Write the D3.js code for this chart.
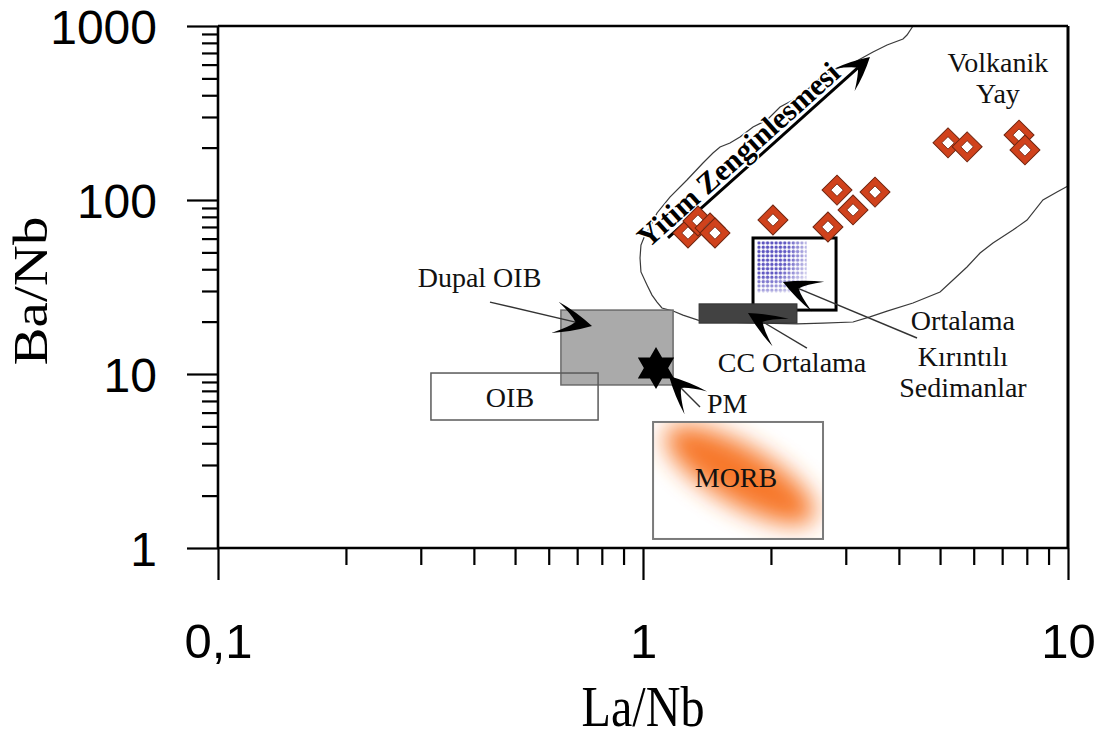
<!DOCTYPE html>
<html><head><meta charset="utf-8">
<script src="https://cdn.jsdelivr.net/npm/d3@7"></script>
<style>body{margin:0;background:#fff} svg{display:block}</style>
</head><body>
<svg id="chart" width="1102" height="740"></svg>
<script>
// ---------- data ----------
const xTicks = [0.1, 1, 10];
const xTickLabels = ["0,1", "1", "10"];
const yTicks = [1, 10, 100, 1000];
const yTickLabels = ["1", "10", "100", "1000"];
const xTitle = "La/Nb";
const yTitle = "Ba/Nb";

// samples (red diamonds)
const sampleLaNb = [1.276, 1.347, 1.438, 1.477, 2.022, 2.724, 2.861, 3.12, 3.515, 5.22, 5.79, 7.67, 7.92];
const sampleBaNb = [64.6, 75.7, 69.0, 64.6, 76.8, 70.0, 114, 87.7, 111, 213, 202, 236, 194];

// reference fields (rectangles)
const boxNames = ["MORB", "Dupal OIB", "OIB", "Sediment", "CC"];
const boxLaNb = [[1.056, 2.652], [0.641, 1.177], [0.317, 0.784], [1.815, 2.846], [1.355, 2.303]];
const boxBaNb = [[1.127, 5.30], [8.65, 23.3], [5.44, 10.13], [23.3, 60.5], [19.6, 25.3]];

// sediment dot cloud extent
const dotLaNb = [1.855, 2.43];
const dotBaNb = [29.2, 58.1];

// MORB blob axis end points
const morbLaNb = [1.115, 2.567];
const morbBaNb = [4.77, 1.448];

// primitive mantle
const pmLaNb = 1.073, pmBaNb = 10.83;

// volcanic arc field boundary
const arcLaNb = [4.318, 4.18, 4.09, 3.752, 3.477, 3.12, 2.80, 2.61, 2.431, 2.254, 2.101, 1.958, 1.815, 1.691, 1.602, 1.518, 1.461, 1.384, 1.269, 1.157, 1.079, 1.039, 1.011, 0.989, 0.984, 0.989, 1.022, 1.050, 1.079, 1.108, 1.177, 1.242, 1.347, 1.518, 1.885, 2.303, 2.652, 3.12, 3.42, 3.752, 4.318, 5.0, 5.363, 5.786, 6.21, 6.66, 7.42, 8.01, 8.73, 9.42, 10];
const arcBaNb = [1000, 887.8, 842, 778, 709, 613, 558.6, 502.5, 428.7, 375.6, 342.3, 288.3, 262.8, 230.2, 212.6, 201.6, 186.3, 163.2, 130.3, 104.0, 84.2, 69.9, 62.9, 55.1, 46.4, 38.6, 32.5, 28.4, 25.9, 23.95, 23.0, 21.8, 20.4, 19.9, 19.6, 19.4, 19.6, 19.9, 21.3, 23.0, 25.6, 29.6, 34.7, 41.2, 49.6, 56.6, 67.2, 76.7, 100, 111.2, 120.3];

// subduction enrichment arrow
const subFrom = [1.145, 60.5], subTo = [3.42, 663];
const subText = "Yitim Zenginlesmesi";

// labels
const labelTexts = ["Dupal OIB", "OIB", "PM", "MORB", "CC Ortalama", "Ortalama", "Kırıntılı", "Sedimanlar", "Volkanik", "Yay"];
const labelLaNb = [0.4124, 0.4864, 1.414, 1.655, 2.242, 5.66, 5.66, 5.66, 6.84, 6.84];
const labelBaNb = [31.6, 6.46, 5.97, 2.24, 10.27, 17.9, 11.12, 7.38, 544, 361];
const labelAnchor = ["middle", "middle", "start", "middle", "middle", "middle", "middle", "middle", "middle", "middle"];

// pointer arrows
const arrowFromLaNb = [0.4365, 1.362, 2.431, 4.413];
const arrowFromBaNb = [25.9, 6.46, 14.1, 16.1];
const arrowToLaNb = [0.7586, 1.151, 1.766, 2.135];
const arrowToBaNb = [18.88, 9.74, 22.4, 33.8];

// ---------- drawing ----------
const svg = d3.select("#chart");
const x = d3.scaleLog().domain([0.1, 10]).range([218, 1068]);
const y = d3.scaleLog().domain([1, 1000]).range([548, 26]);
const SERIF = "'Liberation Serif','Times New Roman',serif";
const SANS = "'Liberation Sans',Arial,sans-serif";

const defs = svg.append("defs");
defs.append("filter").attr("id", "blur").attr("x", "-50%").attr("y", "-50%").attr("width", "200%").attr("height", "200%")
  .append("feGaussianBlur").attr("stdDeviation", 12);
const pat = defs.append("pattern").attr("id", "dots").attr("patternUnits", "userSpaceOnUse")
  .attr("width", 4.3).attr("height", 4.3);
pat.append("circle").attr("cx", 2.15).attr("cy", 2.15).attr("r", 1.7).attr("fill", "#5a52c0");
const rg = defs.append("radialGradient").attr("id", "dotfade").attr("cx", "0.18").attr("cy", "0.22").attr("r", "1.0");
rg.append("stop").attr("offset", "0").attr("stop-color", "#fff").attr("stop-opacity", 1);
rg.append("stop").attr("offset", "0.45").attr("stop-color", "#fff").attr("stop-opacity", 0.95);
rg.append("stop").attr("offset", "0.75").attr("stop-color", "#fff").attr("stop-opacity", 0.5);
rg.append("stop").attr("offset", "1").attr("stop-color", "#fff").attr("stop-opacity", 0.12);
const mask = defs.append("mask").attr("id", "dotmask");
mask.append("rect")
  .attr("x", x(dotLaNb[0])).attr("y", y(dotBaNb[1]))
  .attr("width", x(dotLaNb[1]) - x(dotLaNb[0])).attr("height", y(dotBaNb[0]) - y(dotBaNb[1]))
  .attr("fill", "url(#dotfade)");
defs.append("clipPath").attr("id", "morbclip").append("rect")
  .attr("x", x(boxLaNb[0][0])).attr("y", y(boxBaNb[0][1]))
  .attr("width", x(boxLaNb[0][1]) - x(boxLaNb[0][0])).attr("height", y(boxBaNb[0][0]) - y(boxBaNb[0][1]));

// MORB blob
{
  const x1 = x(morbLaNb[0]), y1 = y(morbBaNb[0]), x2 = x(morbLaNb[1]), y2 = y(morbBaNb[1]);
  const cx = (x1 + x2) / 2, cy = (y1 + y2) / 2;
  const ang = Math.atan2(y2 - y1, x2 - x1) * 180 / Math.PI;
  const len = Math.hypot(x2 - x1, y2 - y1);
  svg.append("g").attr("clip-path", "url(#morbclip)")
    .append("ellipse")
    .attr("cx", 0).attr("cy", 0).attr("rx", len / 2 - 4).attr("ry", 29)
    .attr("transform", `translate(${cx},${cy}) rotate(${ang})`)
    .attr("fill", "#f7782a").attr("filter", "url(#blur)");
}

// boxes
const boxStyles = [
  { fill: "none", stroke: "#7a7a7a", sw: 2 },
  { fill: "#aaaaaa", stroke: "#6a6a6a", sw: 1.5 },
  { fill: "none", stroke: "#5a5a5a", sw: 1.5 },
  { fill: "#ffffff", stroke: "#000000", sw: 3 },
  { fill: "#424242", stroke: "#333333", sw: 1 }
];
function drawBox(i) {
  svg.append("rect")
    .attr("x", x(boxLaNb[i][0])).attr("y", y(boxBaNb[i][1]))
    .attr("width", x(boxLaNb[i][1]) - x(boxLaNb[i][0]))
    .attr("height", y(boxBaNb[i][0]) - y(boxBaNb[i][1]))
    .attr("fill", boxStyles[i].fill).attr("stroke", boxStyles[i].stroke)
    .attr("stroke-width", boxStyles[i].sw);
}
drawBox(0);

// arc boundary
svg.append("path")
  .datum(arcLaNb.map((d, i) => [d, arcBaNb[i]]))
  .attr("d", d3.line().x(d => x(d[0])).y(d => y(d[1])))
  .attr("fill", "none").attr("stroke", "#3a3a3a").attr("stroke-width", 1.2);

drawBox(1);
drawBox(2);
drawBox(3);
// dot cloud
svg.append("rect")
  .attr("x", x(dotLaNb[0])).attr("y", y(dotBaNb[1]))
  .attr("width", x(dotLaNb[1]) - x(dotLaNb[0])).attr("height", y(dotBaNb[0]) - y(dotBaNb[1]))
  .attr("fill", "url(#dots)").attr("mask", "url(#dotmask)");
drawBox(4);

// PM star (hexagram)
{
  const r = 21, ri = r / Math.sqrt(3);
  const pts = d3.range(12).map(k => {
    const a = (-90 + k * 30) * Math.PI / 180;
    const rr = k % 2 === 0 ? r : ri;
    return [rr * Math.cos(a), rr * Math.sin(a)];
  });
  svg.append("path").attr("d", "M" + pts.map(p => p[0].toFixed(2) + " " + p[1].toFixed(2)).join(" L") + " Z")
    .attr("transform", `translate(${x(pmLaNb)},${y(pmBaNb)})`)
    .attr("fill", "#000");
}

// fancy (swallowtail) arrow helper
const P = p => p[0].toFixed(2) + " " + p[1].toFixed(2);
function fancyArrow(g, x1, y1, x2, y2, o) {
  const dx = x2 - x1, dy = y2 - y1, L = Math.hypot(dx, dy);
  const ux = dx / L, uy = dy / L, nx = -uy, ny = ux;
  const hl = o.hl, hw = o.hw, nd = o.nd;
  g.append("line").attr("x1", x1).attr("y1", y1)
    .attr("x2", x2 - ux * nd).attr("y2", y2 - uy * nd)
    .attr("stroke", o.lineColor).attr("stroke-width", o.lw);
  const tip = [x2, y2];
  const b1 = [x2 - ux * hl + nx * hw, y2 - uy * hl + ny * hw];
  const b2 = [x2 - ux * hl - nx * hw, y2 - uy * hl - ny * hw];
  const nt = [x2 - ux * nd, y2 - uy * nd];
  const c1 = [x2 - ux * hl * 0.5 + nx * hw * 0.66, y2 - uy * hl * 0.5 + ny * hw * 0.66];
  const c2 = [x2 - ux * hl * 0.5 - nx * hw * 0.66, y2 - uy * hl * 0.5 - ny * hw * 0.66];
  const k1 = [x2 - ux * (nd + 5) + nx * hw * 0.4, y2 - uy * (nd + 5) + ny * hw * 0.4];
  const k2 = [x2 - ux * (nd + 5) - nx * hw * 0.4, y2 - uy * (nd + 5) - ny * hw * 0.4];
  g.append("path")
    .attr("d", `M ${P(tip)} Q ${P(c1)} ${P(b1)} Q ${P(k1)} ${P(nt)} Q ${P(k2)} ${P(b2)} Q ${P(c2)} ${P(tip)} Z`)
    .attr("fill", "#000");
}

// subduction arrow + text
{
  const x1 = x(subFrom[0]), y1 = y(subFrom[1]), x2 = x(subTo[0]), y2 = y(subTo[1]);
  const g = svg.append("g");
  fancyArrow(g, x1, y1, x2, y2, { hl: 34, hw: 15, nd: 16, lw: 3, lineColor: "#000" });
  const ang = Math.atan2(y2 - y1, x2 - x1) * 180 / Math.PI;
  g.append("text")
    .attr("transform", `translate(${x1},${y1}) rotate(${ang})`)
    .attr("x", -22).attr("y", -5)
    .attr("textLength", 260).attr("lengthAdjust", "spacingAndGlyphs")
    .attr("font-family", SERIF).attr("font-weight", "bold").attr("font-size", 30)
    .attr("fill", "#000").attr("stroke", "#fff").attr("stroke-width", 3)
    .attr("paint-order", "stroke")
    .text(subText);
}

// pointer arrows
arrowFromLaNb.forEach((d, i) => {
  fancyArrow(svg.append("g"), x(d), y(arrowFromBaNb[i]), x(arrowToLaNb[i]), y(arrowToBaNb[i]),
    { hl: 38, hw: 16, nd: 17, lw: 1.4, lineColor: "#333" });
});

// samples
const gS = svg.append("g");
sampleLaNb.forEach((d, i) => {
  const g = gS.append("g").attr("transform", `translate(${x(d)},${y(sampleBaNb[i])}) rotate(45)`);
  g.append("rect").attr("x", -10.6).attr("y", -10.6).attr("width", 21.2).attr("height", 21.2)
    .attr("fill", "#d0421c").attr("stroke", "#6e2510").attr("stroke-width", 1);
  g.append("rect").attr("x", -4.4).attr("y", -4.4).attr("width", 8.8).attr("height", 8.8)
    .attr("fill", "#fff").attr("stroke", "#6e2510").attr("stroke-width", 0.8);
});

// labels
labelTexts.forEach((t, i) => {
  svg.append("text").attr("x", x(labelLaNb[i])).attr("y", y(labelBaNb[i]))
    .attr("text-anchor", labelAnchor[i])
    .attr("font-family", SERIF).attr("font-size", 28).attr("fill", "#111")
    .text(t);
});

// ---------- axes ----------
const xMinor = x.ticks().filter(v => !xTicks.some(t => Math.abs(t - v) < 1e-9));
const yMinor = y.ticks().filter(v => !yTicks.some(t => Math.abs(t - v) < 1e-9));

const gx = svg.append("g").attr("transform", `translate(0,${y(1)})`);
gx.call(d3.axisBottom(x).tickValues(xMinor).tickSize(17).tickSizeOuter(0).tickFormat(""));
gx.call(g => g.select(".domain").remove());
const gx2 = svg.append("g").attr("transform", `translate(0,${y(1)})`);
gx2.call(d3.axisBottom(x).tickValues(xTicks).tickSize(32).tickSizeOuter(0).tickFormat((d, i) => xTickLabels[i]));
gx2.select(".domain").attr("d", `M${x(0.1)},0H${x(10)}`);
gx2.selectAll("text").attr("y", 110).attr("dy", 0)
  .attr("font-family", SANS).attr("font-size", 49).attr("fill", "#000");

const gy = svg.append("g").attr("transform", `translate(${x(0.1)},0)`);
gy.call(d3.axisLeft(y).tickValues(yMinor).tickSize(16).tickSizeOuter(0).tickFormat(""));
gy.call(g => g.select(".domain").remove());
const gy2 = svg.append("g").attr("transform", `translate(${x(0.1)},0)`);
gy2.call(d3.axisLeft(y).tickValues(yTicks).tickSize(31).tickSizeOuter(0).tickFormat((d, i) => yTickLabels[i]));
gy2.select(".domain").attr("d", `M0,${y(1)}V${y(1000)}`);
gy2.selectAll("text").attr("x", -61).attr("dy", "0.36em")
  .attr("font-family", SANS).attr("font-size", 48).attr("fill", "#000");

[gx, gx2, gy, gy2].forEach(g => g.selectAll(".tick line").attr("stroke", "#000").attr("stroke-width", 2.2));
[gx2, gy2].forEach(g => g.select(".domain").attr("stroke", "#000").attr("stroke-width", 2.6));

// frame top/right
svg.append("line").attr("x1", x(0.1)).attr("x2", x(10)).attr("y1", y(1000)).attr("y2", y(1000))
  .attr("stroke", "#000").attr("stroke-width", 2.6);
svg.append("line").attr("x1", x(10)).attr("x2", x(10)).attr("y1", y(1000)).attr("y2", y(1))
  .attr("stroke", "#000").attr("stroke-width", 3);

// titles
svg.append("text").attr("transform", `translate(${x(1)},726) scale(0.86,1)`)
  .attr("text-anchor", "middle").attr("font-family", SERIF).attr("font-size", 56).attr("fill", "#000")
  .text(xTitle);
svg.append("text").attr("transform", `translate(47,291) scale(0.86,1) rotate(-90)`)
  .attr("text-anchor", "middle").attr("font-family", SERIF).attr("font-size", 57).attr("fill", "#000")
  .text(yTitle);
</script>
</body></html>
